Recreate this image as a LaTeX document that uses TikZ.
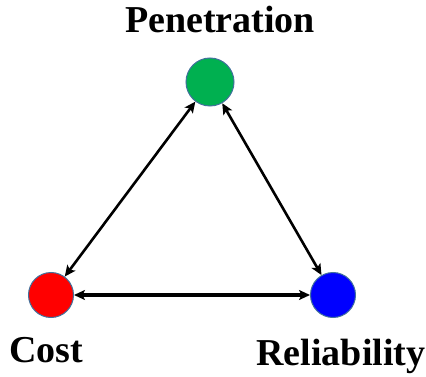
\documentclass[tikz,border=0pt]{standalone}
\usepackage{fontspec}
\setmainfont{Liberation Serif}
\usetikzlibrary{arrows.meta}
\definecolor{cgreen}{HTML}{00B050}
\definecolor{cred}{HTML}{FF0000}
\definecolor{cblue}{HTML}{0000FF}
\definecolor{cborder}{HTML}{41719C}
\tikzset{
  dot/.style={circle, draw=cborder, line width=1pt, inner sep=0pt},
  lbl/.style={font=\fontsize{38}{40}\selectfont\bfseries, inner sep=0pt, anchor=base},
  tip/.style={Stealth[length=11pt,width=10pt,inset=2.5pt]},
  link/.style={{Stealth[length=11pt,width=10pt,inset=2.5pt]}-{Stealth[length=11pt,width=10pt,inset=2.5pt]}, line width=2.6pt},
}
\begin{document}
\begin{tikzpicture}[x=1pt,y=-1pt]
\useasboundingbox (0,0) rectangle (426,377);
\node[dot, fill=cgreen, minimum size=48pt] (g) at (210,82) {};
\node[dot, fill=cred, minimum size=45pt] (c) at (51,295) {};
\node[dot, fill=cblue, minimum size=45pt] (r) at (333,295) {};
\node[lbl] (tp) at (220,33) {Penetration};
\node[lbl] (tc) at (46,362) {Cost};
\node[lbl] (tr) at (341,365) {Reliability};
\draw[link] (g) -- (c);
\draw[link] (g) -- (r);
\draw[link, line width=3.6pt] (c) -- (r);
\end{tikzpicture}
\end{document}
